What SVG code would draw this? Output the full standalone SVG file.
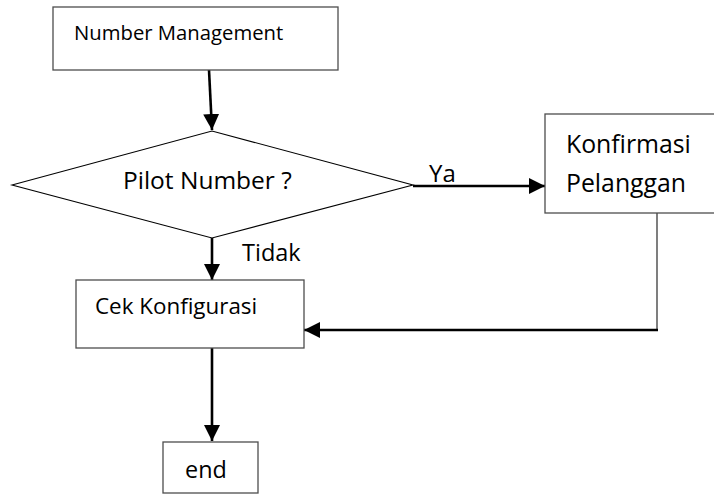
<svg xmlns="http://www.w3.org/2000/svg" width="714" height="494" viewBox="0 0 714 494">
  <style>
    .box { fill: #ffffff; stroke: #4d4d4d; stroke-width: 1.3; }
    .dec { fill: #ffffff; stroke: #000000; stroke-width: 1.1; }
    .flow { fill: none; stroke: #000000; stroke-width: 2.6; }
    .thin { fill: none; stroke: #3a3a3a; stroke-width: 1.3; }
    text { font-family: "Open Sans", "Noto Sans", "DejaVu Sans", sans-serif; fill: #000000; }
  </style>
  <defs>
    <marker id="arrow" markerUnits="userSpaceOnUse" markerWidth="16" markerHeight="16" viewBox="0 0 16 16" refX="16" refY="8" orient="auto">
      <path d="M0,0 L16,8 L0,16 Z" fill="#000000"/>
    </marker>
  </defs>
  <rect width="714" height="494" fill="#ffffff"/>

  <g id="connectors">
    <path class="flow" d="M209,70 L212,130" marker-end="url(#arrow)"/>
    <path class="flow" d="M413,186 L545,186" marker-end="url(#arrow)"/>
    <path class="flow" d="M212,238 L212,280" marker-end="url(#arrow)"/>
    <path class="thin" d="M657,213 L657,330"/>
    <path class="flow" d="M658,330 L304,330" marker-end="url(#arrow)"/>
    <path class="flow" d="M212,348 L212,441" marker-end="url(#arrow)"/>
    <text x="429" y="182" font-size="24">Ya</text>
    <text x="242" y="261" font-size="23.5">Tidak</text>
  </g>

  <g id="number-management">
    <rect class="box" x="53" y="7" width="285" height="63"/>
    <text x="74" y="40" font-size="20.3">Number Management</text>
  </g>

  <g id="pilot-number">
    <polygon class="dec" points="12,185 212,131 413,185 212,238"/>
    <text x="123" y="189" font-size="24.5">Pilot Number ?</text>
  </g>

  <g id="konfirmasi-pelanggan">
    <rect class="box" x="545" y="114" width="175" height="99"/>
    <text x="566" y="153" font-size="24.8">Konfirmasi</text>
    <text x="566" y="192" font-size="24.8">Pelanggan</text>
  </g>

  <g id="cek-konfigurasi">
    <rect class="box" x="76" y="280" width="228" height="68"/>
    <text x="95" y="314" font-size="22.4">Cek Konfigurasi</text>
  </g>

  <g id="end">
    <rect class="box" x="163" y="442" width="95" height="51"/>
    <text x="185" y="478" font-size="23.4">end</text>
  </g>
</svg>
